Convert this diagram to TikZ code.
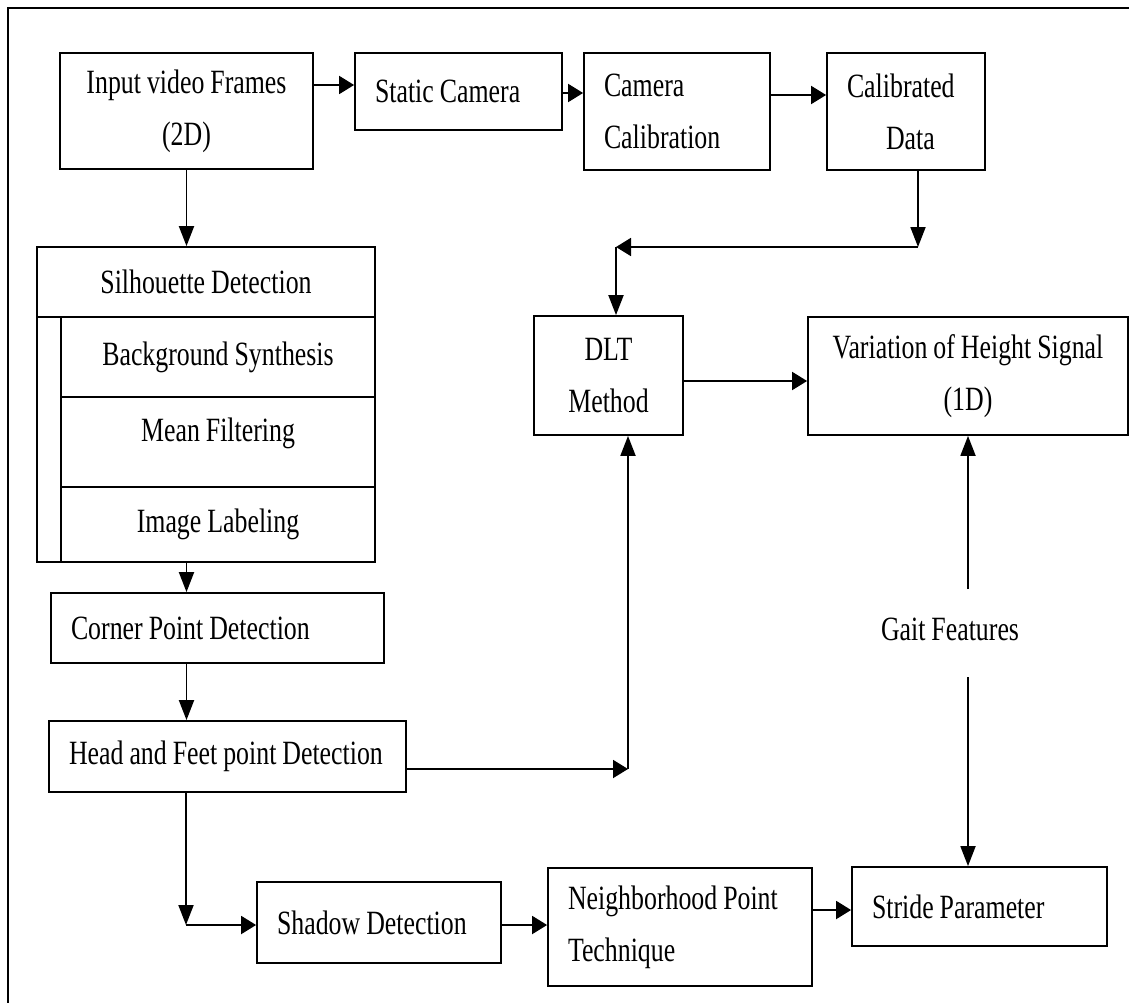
\documentclass[tikz,border=0pt]{standalone}
\usepackage{fontspec}
\setmainfont{Liberation Serif}[FakeStretch=0.76]
\usetikzlibrary{arrows.meta}
\newcommand{\ind}{\hspace*{20pt}}
\newcommand{\tightspace}{\spaceskip=6pt\relax}
\begin{document}
\begin{tikzpicture}[x=1pt,y=-1pt,
  txt/.style={font=\fontsize{34}{52}\selectfont, execute at begin node=\tightspace},
  box/.style={draw, line width=1.8pt, inner sep=0pt, txt},
  lbox/.style n args={2}{box, text width=#1, minimum height=#2, align=left},
  cbox/.style n args={2}{box, text width=#1, minimum height=#2, align=center},
  harr/.style={line width=1.9pt, -{Triangle[length=15pt,width=18pt]}},
  varr/.style={line width=1.9pt, -{Triangle[length=20pt,width=15pt]}}]
\useasboundingbox (0,0) rectangle (1129,1003);
% frame
\draw[line width=1.8pt] (8,1015) -- (8,8) -- (1140,8);
% top row
\node[cbox={253pt}{116pt}] (inp) at (186.5,111) {Input video Frames\\(2D)};
\node[lbox={207pt}{77pt}] (stat) at (458.5,91.5) {\ind Static Camera};
\node[lbox={186pt}{117pt}] (ccal) at (677,111.5) {\ind Camera\\\ind Calibration};
\node[lbox={158pt}{117pt}] (cdat) at (906,111.5) {\ind Calibrated\\\hspace*{59pt}Data};
% silhouette group
\node[cbox={338pt}{70pt}] (sil) at (206,282) {Silhouette Detection};
\node[box, minimum width=24pt, minimum height=245pt] (strip) at (49,439.5) {};
\node[cbox={314pt}{80pt}] (bg) at (218,357) {Background Synthesis};
\node[cbox={314pt}{90pt}, text height=23pt, text depth=25pt] (mean) at (218,442) {Mean Filtering};
\node[cbox={314pt}{75pt}] (img) at (218,524.5) {Image Labeling};
% left column
\node[lbox={333pt}{70pt}] (corner) at (217.5,628) {\ind Corner Point Detection};
\node[lbox={357pt}{71pt}] (head) at (227.5,756.5) {\ind Head and Feet point Detection};
% middle / right
\node[cbox={149pt}{119pt}] (dlt) at (608.5,375.5) {DLT\\Method};
\node[cbox={320pt}{118pt}] (var) at (968,376) {Variation of Height Signal\\(1D)};
\node[txt, inner sep=0pt] (gait) at (950,629) {Gait Features};
% bottom row
\node[lbox={244pt}{81pt}] (shadow) at (379,922.5) {\ind Shadow Detection};
\node[lbox={264pt}{118pt}] (neigh) at (680,927) {\ind Neighborhood Point\\\ind Technique};
\node[lbox={255pt}{79pt}] (stride) at (979.5,906.5) {\ind Stride Parameter};
% helper coordinates
\coordinate (c1) at (918,247);
\coordinate (c2) at (616,247);
\coordinate (h1) at (628,769);
\coordinate (s1) at (186,925);
\coordinate (g1) at (968,589);
\coordinate (g2) at (968,677);
% connectors top row
\draw[harr] ([yshift=26pt]inp.east) -- ([yshift=26pt]inp.east -| stat.west);
\draw[harr] ([yshift=-1.5pt]stat.east) -- ([yshift=-1.5pt]stat.east -| ccal.west);
\draw[harr] ([yshift=16.5pt]ccal.east) -- ([yshift=16.5pt]ccal.east -| cdat.west);
\draw[varr] (cdat.south -| c1) -- (c1);
\draw[harr] (c1) -- (c2);
\draw[varr] (c2) -- (c2 |- dlt.north);
% left column connectors
\draw[varr] (inp.south) -- (inp.south |- sil.north);
\draw[varr] (inp.south |- img.south) -- (inp.south |- corner.north);
\draw[varr] (inp.south |- corner.south) -- (inp.south |- head.north);
% head to DLT
\draw[harr] (head.east |- h1) -- (h1);
\draw[varr] (h1) -- (h1 |- dlt.south);
% DLT to variation
\draw[harr] ([yshift=-5.5pt]dlt.east) -- ([yshift=-5.5pt]dlt.east -| var.west);
% gait features
\draw[varr] (g1) -- (g1 |- var.south);
\draw[varr] (g2) -- (g2 |- stride.north);
% head to shadow
\draw[varr] (head.south -| s1) -- (s1);
\draw[harr] (s1) -- (s1 -| shadow.west);
\draw[harr] ([yshift=-2.5pt]shadow.east) -- ([yshift=-2.5pt]shadow.east -| neigh.west);
\draw[harr] ([yshift=17pt]neigh.east) -- ([yshift=17pt]neigh.east -| stride.west);
\end{tikzpicture}
\end{document}
